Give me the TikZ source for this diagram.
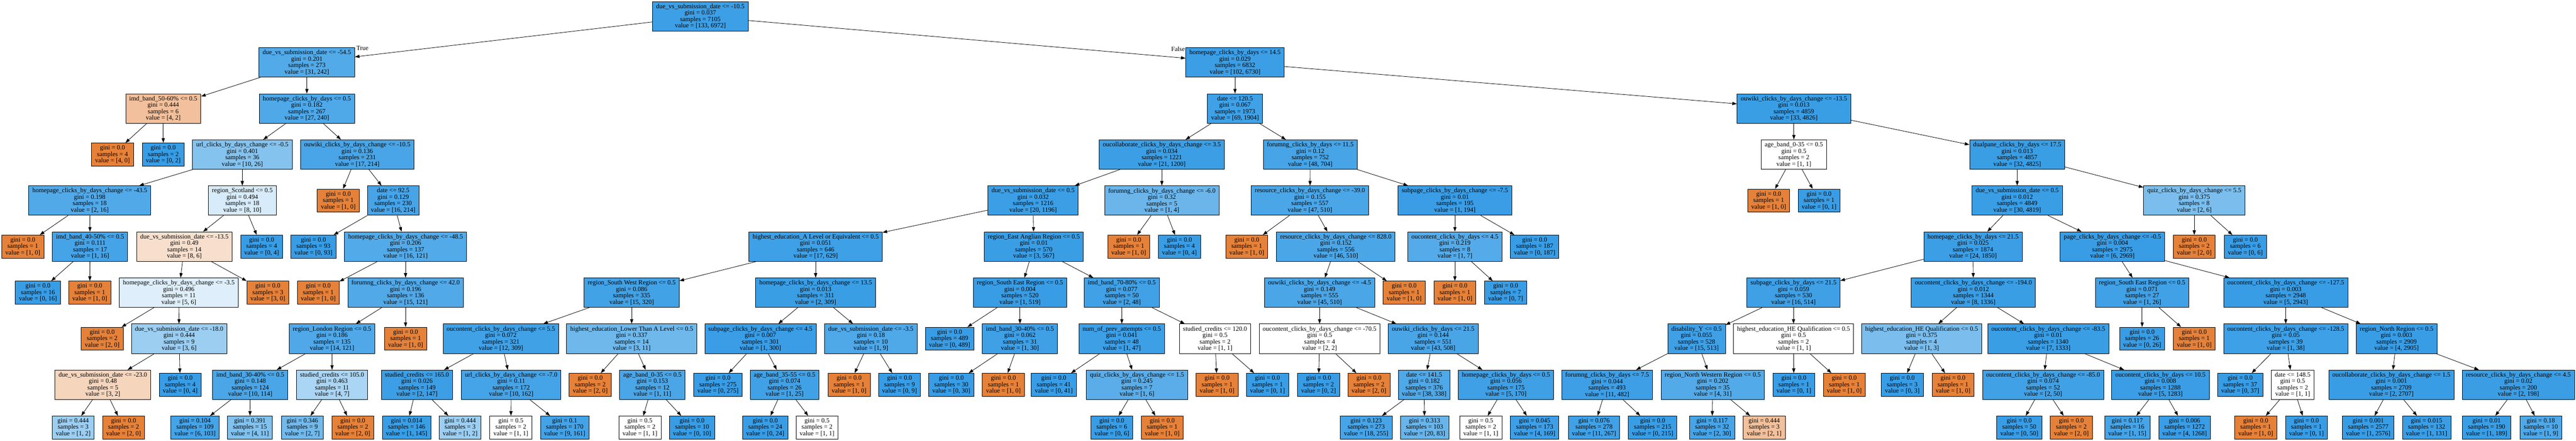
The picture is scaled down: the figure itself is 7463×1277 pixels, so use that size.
\documentclass[tikz,border=0pt]{standalone}
\usepackage{fontspec}
\setmainfont{Liberation Serif}
\usetikzlibrary{arrows.meta}
\definecolor{orangec}{RGB}{229,129,57}
\definecolor{bluec}{RGB}{57,157,229}
\tikzset{
  tbox/.style={draw=black, line width=1.2pt, rectangle, align=center, inner xsep=10.5pt, inner ysep=0pt, font=\fontsize{18.67pt}{18.67pt}\selectfont},
  splitbox/.style={tbox, minimum height=85.3pt},
  leafbox/.style={tbox, minimum height=66.6pt},
  edge/.style={draw=black, line width=1.2pt, -{Triangle[length=13.3pt,width=9.3pt]}},
  edgelabel/.style={font=\fontsize{18.67pt}{18.67pt}\selectfont, inner sep=0pt, anchor=base}
}
\newcommand{\tnsetfill}[2]{%
  \pgfmathsetmacro\tnpct{100*(1-min(#1,#2)/max(#1,#2))}%
  \pgfmathtruncatemacro\tncls{(#1>#2) ? 1 : 0}%
  \ifnum\tncls=1 \edef\tnfill{orangec!\tnpct!white}\else\edef\tnfill{bluec!\tnpct!white}\fi}
\newcommand{\tnlevel}[1]{\pgfmathsetmacro\tny{(#1==9) ? 1238.5 : 47.5+133.4*#1}}
% name, parent, x, level, condition, gini, a, b
\newcommand{\SN}[8]{%
  \tnsetfill{#7}{#8}\tnlevel{#4}%
  \pgfmathtruncatemacro\tns{#7+#8}%
  \node[splitbox, fill=\tnfill] (#1) at (#3,\tny) {#5\\gini = #6\\samples = \tns\\value = [#7, #8]};%
  \draw[edge] (#2) -- (#1);}
% name, parent, x, level, gini, a, b
\newcommand{\LN}[7]{%
  \tnsetfill{#6}{#7}\tnlevel{#4}%
  \pgfmathtruncatemacro\tns{#6+#7}%
  \node[leafbox, fill=\tnfill] (#1) at (#3,\tny) {gini = #5\\samples = \tns\\value = [#6, #7]};%
  \draw[edge] (#2) -- (#1);}
\begin{document}
\begin{tikzpicture}[x=1pt,y=-1pt]
\fill[white] (0,0) rectangle (7463,1277);
\useasboundingbox (0,0) rectangle (7463,1277);
% root
\tnsetfill{133}{6972}
\node[splitbox, fill=\tnfill] (t) at (2029,47.5) {due\_vs\_submission\_date <= -10.5\\gini = 0.037\\samples = 7105\\value = [133, 6972]};
% level 1
\SN{a}{t}{889}{1}{due\_vs\_submission\_date <= -54.5}{0.201}{31}{242}
\SN{b}{t}{3578}{1}{homepage\_clicks\_by\_days <= 14.5}{0.029}{102}{6730}
\node[edgelabel] (truelab) at (1050,145) {True};
\node[edgelabel] (falselab) at (3413,149) {False};
% level 2
\SN{aa}{a}{473}{2}{imd\_band\_50-60\% <= 0.5}{0.444}{4}{2}
\SN{ab}{a}{889}{2}{homepage\_clicks\_by\_days <= 0.5}{0.182}{27}{240}
\SN{ba}{b}{3578}{2}{date <= 120.5}{0.067}{69}{1904}
\SN{bb}{b}{5197}{2}{ouwiki\_clicks\_by\_days\_change <= -13.5}{0.013}{33}{4826}
% level 3
\LN{aaa}{aa}{326}{3}{0.0}{4}{0}
\LN{aab}{aa}{473}{3}{0.0}{0}{2}
\SN{aba}{ab}{702}{3}{url\_clicks\_by\_days\_change <= -0.5}{0.401}{10}{26}
\SN{abb}{ab}{1035}{3}{ouwiki\_clicks\_by\_days\_change <= -10.5}{0.136}{17}{214}
\SN{baa}{ba}{3366}{3}{oucollaborate\_clicks\_by\_days\_change <= 3.5}{0.034}{21}{1200}
\SN{bab}{ba}{3796}{3}{forumng\_clicks\_by\_days <= 11.5}{0.12}{48}{704}
\SN{bba}{bb}{5197}{3}{age\_band\_0-35 <= 0.5}{0.5}{1}{1}
\SN{bbb}{bb}{5844}{3}{dualpane\_clicks\_by\_days <= 17.5}{0.013}{32}{4825}
% level 4
\SN{abaa}{aba}{260}{4}{homepage\_clicks\_by\_days\_change <= -43.5}{0.198}{2}{16}
\SN{abab}{aba}{702}{4}{region\_Scotland <= 0.5}{0.494}{8}{10}
\LN{abba}{abb}{980}{4}{0.0}{1}{0}
\SN{abbb}{abb}{1139}{4}{date <= 92.5}{0.129}{16}{214}
\SN{baaa}{baa}{2993}{4}{due\_vs\_submission\_date <= 0.5}{0.032}{20}{1196}
\SN{baab}{baa}{3366}{4}{forumng\_clicks\_by\_days\_change <= -6.0}{0.32}{1}{4}
\SN{baba}{bab}{3795}{4}{resource\_clicks\_by\_days\_change <= -39.0}{0.155}{47}{510}
\SN{babb}{bab}{4215}{4}{subpage\_clicks\_by\_days\_change <= -7.5}{0.01}{1}{194}
\LN{bbaa}{bba}{5124}{4}{0.0}{1}{0}
\LN{bbab}{bba}{5270}{4}{0.0}{0}{1}
\SN{bbba}{bbb}{5844}{4}{due\_vs\_submission\_date <= 0.5}{0.012}{30}{4819}
\SN{bbbb}{bbb}{6357}{4}{quiz\_clicks\_by\_days\_change <= 5.5}{0.375}{2}{6}
% level 5
\LN{abaaa}{abaa}{66}{5}{0.0}{1}{0}
\SN{abaab}{abaa}{261}{5}{imd\_band\_40-50\% <= 0.5}{0.111}{1}{16}
\SN{ababa}{abab}{534}{5}{due\_vs\_submission\_date <= -13.5}{0.49}{8}{6}
\LN{ababb}{abab}{758}{5}{0.0}{0}{4}
\LN{abbba}{abbb}{908}{5}{0.0}{0}{93}
\SN{abbbb}{abbb}{1175}{5}{homepage\_clicks\_by\_days\_change <= -48.5}{0.206}{16}{121}
\SN{baaaa}{baaa}{2363}{5}{highest\_education\_A Level or Equivalent <= 0.5}{0.051}{17}{629}
\SN{baaab}{baaa}{2995}{5}{region\_East Anglian Region <= 0.5}{0.01}{3}{567}
\LN{baaba}{baab}{3270}{5}{0.0}{1}{0}
\LN{baabb}{baab}{3417}{5}{0.0}{0}{4}
\LN{babaa}{baba}{3612}{5}{0.0}{1}{0}
\SN{babab}{baba}{3870}{5}{resource\_clicks\_by\_days\_change <= 828.0}{0.152}{46}{510}
\SN{babba}{babb}{4215}{5}{oucontent\_clicks\_by\_days <= 4.5}{0.219}{1}{7}
\LN{babbb}{babb}{4446}{5}{0.0}{0}{187}
\SN{bbbaa}{bbba}{5716}{5}{homepage\_clicks\_by\_days <= 21.5}{0.025}{24}{1850}
\SN{bbbab}{bbba}{6120}{5}{page\_clicks\_by\_days\_change <= -0.5}{0.004}{6}{2969}
\LN{bbbba}{bbbb}{6357}{5}{0.0}{2}{0}
\LN{bbbbb}{bbbb}{6505}{5}{0.0}{0}{6}
% level 6
\LN{abaaba}{abaab}{110}{6}{0.0}{0}{16}
\LN{abaabb}{abaab}{260}{6}{0.0}{1}{0}
\SN{ababaa}{ababa}{518}{6}{homepage\_clicks\_by\_days\_change <= -3.5}{0.496}{5}{6}
\LN{ababab}{ababa}{776}{6}{0.0}{3}{0}
\LN{abbbba}{abbbb}{922}{6}{0.0}{1}{0}
\SN{abbbbb}{abbbb}{1175}{6}{forumng\_clicks\_by\_days\_change <= 42.0}{0.196}{15}{121}
\SN{baaaaa}{baaaa}{1830}{6}{region\_South West Region <= 0.5}{0.086}{15}{320}
\SN{baaaab}{baaaa}{2363}{6}{homepage\_clicks\_by\_days\_change <= 13.5}{0.013}{2}{309}
\SN{baaaba}{baaab}{2955}{6}{region\_South East Region <= 0.5}{0.004}{1}{519}
\SN{baaabb}{baaab}{3250}{6}{imd\_band\_70-80\% <= 0.5}{0.077}{2}{48}
\SN{bababa}{babab}{3823}{6}{ouwiki\_clicks\_by\_days\_change <= -4.5}{0.149}{45}{510}
\LN{bababb}{babab}{4068}{6}{0.0}{1}{0}
\LN{babbaa}{babba}{4215}{6}{0.0}{1}{0}
\LN{babbab}{babba}{4362}{6}{0.0}{0}{7}
\SN{bbbaaa}{bbbaa}{5196}{6}{subpage\_clicks\_by\_days <= 21.5}{0.059}{16}{514}
\SN{bbbaab}{bbbaa}{5717}{6}{oucontent\_clicks\_by\_days\_change <= -194.0}{0.012}{8}{1336}
\SN{bbbaba}{bbbab}{6206}{6}{region\_South East Region <= 0.5}{0.071}{1}{26}
\SN{bbbabb}{bbbab}{6622}{6}{oucontent\_clicks\_by\_days\_change <= -127.5}{0.003}{5}{2943}
% level 7
\LN{ababaaa}{ababaa}{296}{7}{0.0}{2}{0}
\SN{ababaab}{ababaa}{519}{7}{due\_vs\_submission\_date <= -18.0}{0.444}{3}{6}
\SN{abbbbba}{abbbbb}{962}{7}{region\_London Region <= 0.5}{0.186}{14}{121}
\LN{abbbbbb}{abbbbb}{1175}{7}{0.0}{1}{0}
\SN{baaaaaa}{baaaaa}{1451}{7}{oucontent\_clicks\_by\_days\_change <= 5.5}{0.072}{12}{309}
\SN{baaaaab}{baaaaa}{1830}{7}{highest\_education\_Lower Than A Level <= 0.5}{0.337}{3}{11}
\SN{baaaaba}{baaaab}{2203}{7}{subpage\_clicks\_by\_days\_change <= 4.5}{0.007}{1}{300}
\SN{baaaabb}{baaaab}{2523}{7}{due\_vs\_submission\_date <= -3.5}{0.18}{1}{9}
\LN{baaabaa}{baaaba}{2751}{7}{0.0}{0}{489}
\SN{baaabab}{baaaba}{2955}{7}{imd\_band\_30-40\% <= 0.5}{0.062}{1}{30}
\SN{baaabba}{baaabb}{3250}{7}{num\_of\_prev\_attempts <= 0.5}{0.041}{1}{47}
\SN{baaabbb}{baaabb}{3520}{7}{studied\_credits <= 120.0}{0.5}{1}{1}
\SN{bababaa}{bababa}{3823}{7}{oucontent\_clicks\_by\_days\_change <= -70.5}{0.5}{2}{2}
\SN{bababab}{bababa}{4152}{7}{ouwiki\_clicks\_by\_days <= 21.5}{0.144}{43}{508}
\SN{bbbaaaa}{bbbaaa}{4915}{7}{disability\_Y <= 0.5}{0.055}{15}{513}
\SN{bbbaaab}{bbbaaa}{5196}{7}{highest\_education\_HE Qualification <= 0.5}{0.5}{1}{1}
\SN{bbbaaba}{bbbaab}{5567}{7}{highest\_education\_HE Qualification <= 0.5}{0.375}{1}{3}
\SN{bbbaabb}{bbbaab}{5934}{7}{oucontent\_clicks\_by\_days\_change <= -83.5}{0.01}{7}{1333}
\LN{bbbabaa}{bbbaba}{6206}{7}{0.0}{0}{26}
\LN{bbbabab}{bbbaba}{6357}{7}{0.0}{1}{0}
\SN{bbbabba}{bbbabb}{6622}{7}{oucontent\_clicks\_by\_days\_change <= -128.5}{0.05}{1}{38}
\SN{bbbabbb}{bbbabb}{6943}{7}{region\_North Region <= 0.5}{0.003}{4}{2905}
% level 8
\SN{ababaaba}{ababaab}{298}{8}{due\_vs\_submission\_date <= -23.0}{0.48}{3}{2}
\LN{ababaabb}{ababaab}{522}{8}{0.0}{0}{4}
\SN{abbbbbaa}{abbbbba}{725}{8}{imd\_band\_30-40\% <= 0.5}{0.148}{10}{114}
\SN{abbbbbab}{abbbbba}{962}{8}{studied\_credits <= 105.0}{0.463}{4}{7}
\SN{baaaaaaa}{baaaaaa}{1208}{8}{studied\_credits <= 165.0}{0.026}{2}{147}
\SN{baaaaaab}{baaaaaa}{1481}{8}{url\_clicks\_by\_days\_change <= -7.0}{0.11}{10}{162}
\LN{baaaaaba}{baaaaab}{1710}{8}{0.0}{2}{0}
\SN{baaaaabb}{baaaaab}{1890}{8}{age\_band\_0-35 <= 0.5}{0.153}{1}{11}
\LN{baaaabaa}{baaaaba}{2080}{8}{0.0}{0}{275}
\SN{baaaabab}{baaaaba}{2273}{8}{age\_band\_35-55 <= 0.5}{0.074}{1}{25}
\LN{baaaabba}{baaaabb}{2460}{8}{0.0}{1}{0}
\LN{baaaabbb}{baaaabb}{2606}{8}{0.0}{0}{9}
\LN{baaababa}{baaabab}{2756}{8}{0.0}{0}{30}
\LN{baaababb}{baaabab}{2907}{8}{0.0}{1}{0}
\LN{baaabbaa}{baaabba}{3053}{8}{0.0}{0}{41}
\SN{baaabbab}{baaabba}{3294}{8}{quiz\_clicks\_by\_days\_change <= 1.5}{0.245}{1}{6}
\LN{baaabbba}{baaabbb}{3526}{8}{0.0}{1}{0}
\LN{baaabbbb}{baaabbb}{3672}{8}{0.0}{0}{1}
\LN{bababaaa}{bababaa}{3820}{8}{0.0}{0}{2}
\LN{bababaab}{bababaa}{3966}{8}{0.0}{2}{0}
\SN{babababa}{bababab}{4126}{8}{date <= 141.5}{0.182}{38}{338}
\SN{babababb}{bababab}{4363}{8}{homepage\_clicks\_by\_days <= 0.5}{0.056}{5}{170}
\SN{bbbaaaaa}{bbbaaaa}{4656}{8}{forumng\_clicks\_by\_days <= 7.5}{0.044}{11}{482}
\SN{bbbaaaab}{bbbaaaa}{4962}{8}{region\_North Western Region <= 0.5}{0.202}{4}{31}
\LN{bbbaaaba}{bbbaaab}{5197}{8}{0.0}{0}{1}
\LN{bbbaaabb}{bbbaaab}{5343}{8}{0.0}{1}{0}
\LN{bbbaabaa}{bbbaaba}{5511}{8}{0.0}{0}{3}
\LN{bbbaabab}{bbbaaba}{5658}{8}{0.0}{1}{0}
\SN{bbbaabba}{bbbaabb}{5919}{8}{oucontent\_clicks\_by\_days\_change <= -85.0}{0.074}{2}{50}
\SN{bbbaabbb}{bbbaabb}{6259}{8}{oucontent\_clicks\_by\_days <= 10.5}{0.008}{5}{1283}
\LN{bbbabbaa}{bbbabba}{6490}{8}{0.0}{0}{37}
\SN{bbbabbab}{bbbabba}{6642}{8}{date <= 148.5}{0.5}{1}{1}
\SN{bbbabbba}{bbbabbb}{6928}{8}{oucollaborate\_clicks\_by\_days\_change <= 1.5}{0.001}{2}{2707}
\SN{bbbabbbb}{bbbabbb}{7296}{8}{resource\_clicks\_by\_days\_change <= 4.5}{0.02}{2}{198}
% level 9
\LN{ababaabaa}{ababaaba}{212}{9}{0.444}{1}{2}
\LN{ababaabab}{ababaaba}{358}{9}{0.0}{2}{0}
\LN{abbbbbaaa}{abbbbbaa}{565}{9}{0.104}{6}{103}
\LN{abbbbbaab}{abbbbbaa}{724}{9}{0.391}{4}{11}
\LN{abbbbbaba}{abbbbbab}{876}{9}{0.346}{2}{7}
\LN{abbbbbabb}{abbbbbab}{1022}{9}{0.0}{2}{0}
\LN{baaaaaaaa}{baaaaaaa}{1178}{9}{0.014}{1}{145}
\LN{baaaaaaab}{baaaaaaa}{1333}{9}{0.444}{1}{2}
\LN{baaaaaaba}{baaaaaab}{1480}{9}{0.5}{1}{1}
\LN{baaaaaabb}{baaaaaab}{1636}{9}{0.1}{9}{161}
\LN{baaaaabba}{baaaaabb}{1854}{9}{0.5}{1}{1}
\LN{baaaaabbb}{baaaaabb}{2005}{9}{0.0}{0}{10}
\LN{baaaababa}{baaaabab}{2217}{9}{0.0}{0}{24}
\LN{baaaababb}{baaaabab}{2367}{9}{0.5}{1}{1}
\LN{baaabbaba}{baaabbab}{3221}{9}{0.0}{0}{6}
\LN{baaabbabb}{baaabbab}{3367}{9}{0.0}{1}{0}
\LN{babababaa}{babababa}{3958}{9}{0.123}{18}{255}
\LN{babababab}{babababa}{4127}{9}{0.313}{20}{83}
\LN{babababba}{babababb}{4290}{9}{0.5}{1}{1}
\LN{babababbb}{babababb}{4446}{9}{0.045}{4}{169}
\LN{bbbaaaaaa}{bbbaaaaa}{4618}{9}{0.076}{11}{267}
\LN{bbbaaaaab}{bbbaaaaa}{4788}{9}{0.0}{0}{215}
\LN{bbbaaaaba}{bbbaaaab}{4960}{9}{0.117}{2}{30}
\LN{bbbaaaabb}{bbbaaaab}{5111}{9}{0.444}{2}{1}
\LN{bbbaabbaa}{bbbaabba}{5850}{9}{0.0}{0}{50}
\LN{bbbaabbab}{bbbaabba}{6001}{9}{0.0}{2}{0}
\LN{bbbaabbba}{bbbaabbb}{6163}{9}{0.117}{1}{15}
\LN{bbbaabbbb}{bbbaabbb}{6329}{9}{0.006}{4}{1268}
\LN{bbbabbaba}{bbbabbab}{6535}{9}{0.0}{1}{0}
\LN{bbbabbabb}{bbbabbab}{6682}{9}{0.0}{0}{1}
\LN{bbbabbbaa}{bbbabbba}{6861}{9}{0.001}{1}{2576}
\LN{bbbabbbab}{bbbabbba}{7030}{9}{0.015}{1}{131}
\LN{bbbabbbba}{bbbabbbb}{7204}{9}{0.01}{1}{189}
\LN{bbbabbbbb}{bbbabbbb}{7361}{9}{0.18}{1}{9}
\end{tikzpicture}
\end{document}
